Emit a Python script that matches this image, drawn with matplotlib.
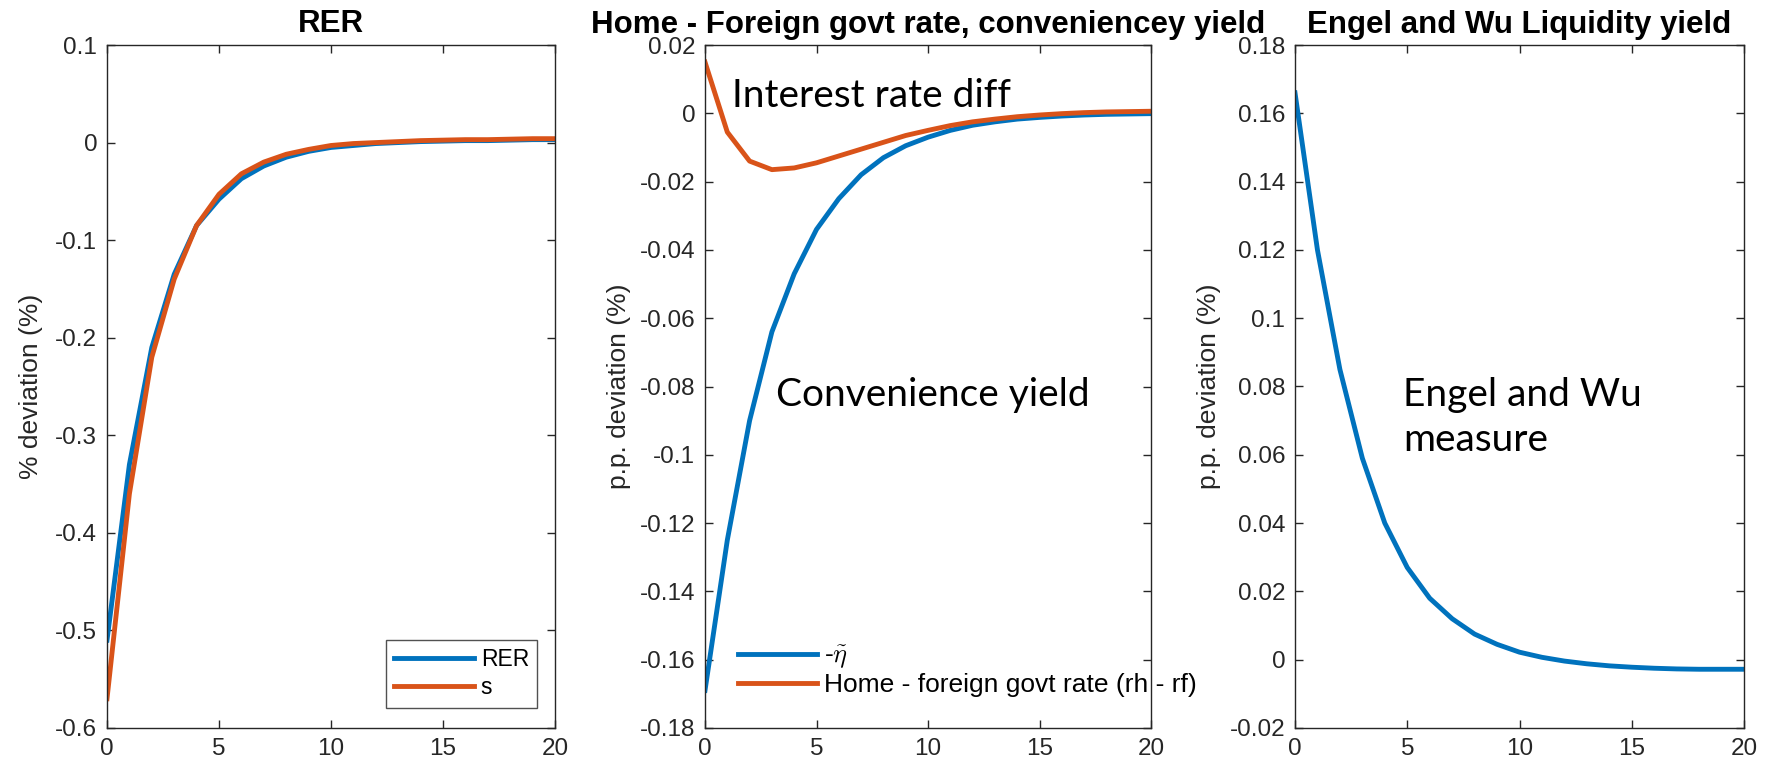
import matplotlib
matplotlib.use("Agg")
import matplotlib.pyplot as plt
import numpy as np

# Impulse responses, periods 0..20
periods = list(range(21))

rer = [-0.51, -0.33, -0.21, -0.135, -0.085, -0.058, -0.037, -0.024, -0.015, -0.009,
       -0.005, -0.003, -0.001, 0.0, 0.001, 0.0015, 0.002, 0.002, 0.0025, 0.003, 0.003]
s_rate = [-0.57, -0.36, -0.22, -0.14, -0.085, -0.053, -0.032, -0.02, -0.012, -0.007,
          -0.003, -0.001, 0.0, 0.001, 0.002, 0.0025, 0.003, 0.003, 0.0035, 0.004, 0.004]

neg_eta = [-0.169, -0.125, -0.090, -0.064, -0.047, -0.034, -0.025, -0.018, -0.013, -0.0095,
           -0.007, -0.005, -0.0035, -0.0025, -0.0017, -0.0012, -0.0008, -0.0005, -0.0003,
           -0.0002, -0.0001]
rate_diff = [0.015, -0.0055, -0.014, -0.0165, -0.016, -0.0145, -0.0125, -0.0105, -0.0085,
             -0.0065, -0.005, -0.0036, -0.0025, -0.0017, -0.001, -0.0005, -0.0001, 0.0002,
             0.0004, 0.0005, 0.0006]

engel_wu = [0.166, 0.12, 0.085, 0.059, 0.040, 0.027, 0.018, 0.012, 0.0075, 0.0045, 0.0022,
            0.0007, -0.0004, -0.0012, -0.0018, -0.0022, -0.0025, -0.0027, -0.0028, -0.0028,
            -0.0028]

titles = ["RER", "Home - Foreign govt rate, conveniencey yield", "Engel and Wu Liquidity yield"]
ylabels = ["% deviation (%)", "p.p. deviation (%)", "p.p. deviation (%)"]

BLUE = "#0072BD"
ORANGE = "#D95319"
AXC = "#262626"

plt.rcParams["font.family"] = ["Liberation Sans", "DejaVu Sans"]
plt.rcParams["mathtext.fontset"] = "cm"

W, H = 1766, 768
fig = plt.figure(figsize=(W / 100, H / 100), dpi=100)

def px_axes(x0, x1, y0, y1):
    return fig.add_axes([x0 / W, 1 - y1 / H, (x1 - x0) / W, (y1 - y0) / H])

top, bot = 45, 728
ax1 = px_axes(107, 555, top, bot)
ax2 = px_axes(705, 1151, top, bot)
ax3 = px_axes(1295, 1744, top, bot)

LW = 3.5
ax1.plot(periods, rer, color=BLUE, lw=LW, label="RER")
ax1.plot(periods, s_rate, color=ORANGE, lw=LW, label="s")
ax1.set_ylim(-0.6, 0.1)
ax1.set_yticks(np.arange(-0.6, 0.11, 0.1))
ax1.set_yticklabels(["-0.6", "-0.5", "-0.4", "-0.3", "-0.2", "-0.1", "0", "0.1"])

ax2.plot(periods, neg_eta, color=BLUE, lw=LW, label=r"-$\tilde{\eta}$")
ax2.plot(periods, rate_diff, color=ORANGE, lw=LW, label="Home - foreign govt rate (rh - rf)")
ax2.set_ylim(-0.18, 0.02)
yt2 = np.round(np.arange(-0.18, 0.021, 0.02), 2)
ax2.set_yticks(yt2)
ax2.set_yticklabels(["0" if abs(v) < 1e-9 else f"{v:g}" for v in yt2])

ax3.plot(periods, engel_wu, color=BLUE, lw=LW)
ax3.set_ylim(-0.02, 0.18)
yt3 = np.round(np.arange(-0.02, 0.181, 0.02), 2)
ax3.set_yticks(yt3)
ax3.set_yticklabels(["0" if abs(v) < 1e-9 else f"{v:g}" for v in yt3])

label_x = [-0.143, -0.166, -0.165]
for ax, t, yl, lx in zip([ax1, ax2, ax3], titles, ylabels, label_x):
    ax.set_xlim(0, 20)
    ax.set_xticks([0, 5, 10, 15, 20])
    ax.tick_params(direction="in", top=True, right=True, length=6, width=1,
                   colors=AXC, labelsize=17.5, pad=7)
    for sp in ax.spines.values():
        sp.set_color(AXC)
        sp.set_linewidth(1)
    ax.set_title(t, fontsize=22.5, fontweight="bold", pad=9, color="black")
    ax.set_ylabel(yl, fontsize=19, color=AXC)
    ax.yaxis.set_label_coords(lx, 0.5)

leg1 = ax1.legend(loc="lower right", fontsize=16.5, frameon=True, fancybox=False,
                  edgecolor=AXC, handlelength=3.5, borderpad=0.35, labelspacing=0.25,
                  handletextpad=0.3, borderaxespad=0, bbox_to_anchor=(0.96, 0.03))
leg1.get_frame().set_linewidth(1)

leg2 = ax2.legend(loc="lower left", fontsize=19, frameon=False, handlelength=3.0,
                  labelspacing=0.1, handletextpad=0.25, borderpad=0, borderaxespad=0,
                  bbox_to_anchor=(0.074, 0.045))

ann_font = ["Lato", "DejaVu Sans"]
ann_size = 28
ax2.text(0.06, 0.925, "Interest rate diff", transform=ax2.transAxes, fontsize=ann_size,
         family=ann_font, va="center", ha="left")
ax2.text(0.16, 0.488, "Convenience yield", transform=ax2.transAxes, fontsize=ann_size,
         family=ann_font, va="center", ha="left")
ax3.text(0.24, 0.488, "Engel and Wu", transform=ax3.transAxes, fontsize=ann_size,
         family=ann_font, va="center", ha="left")
ax3.text(0.24, 0.421, "measure", transform=ax3.transAxes, fontsize=ann_size,
         family=ann_font, va="center", ha="left")

fig.savefig("out.png", dpi=100)
